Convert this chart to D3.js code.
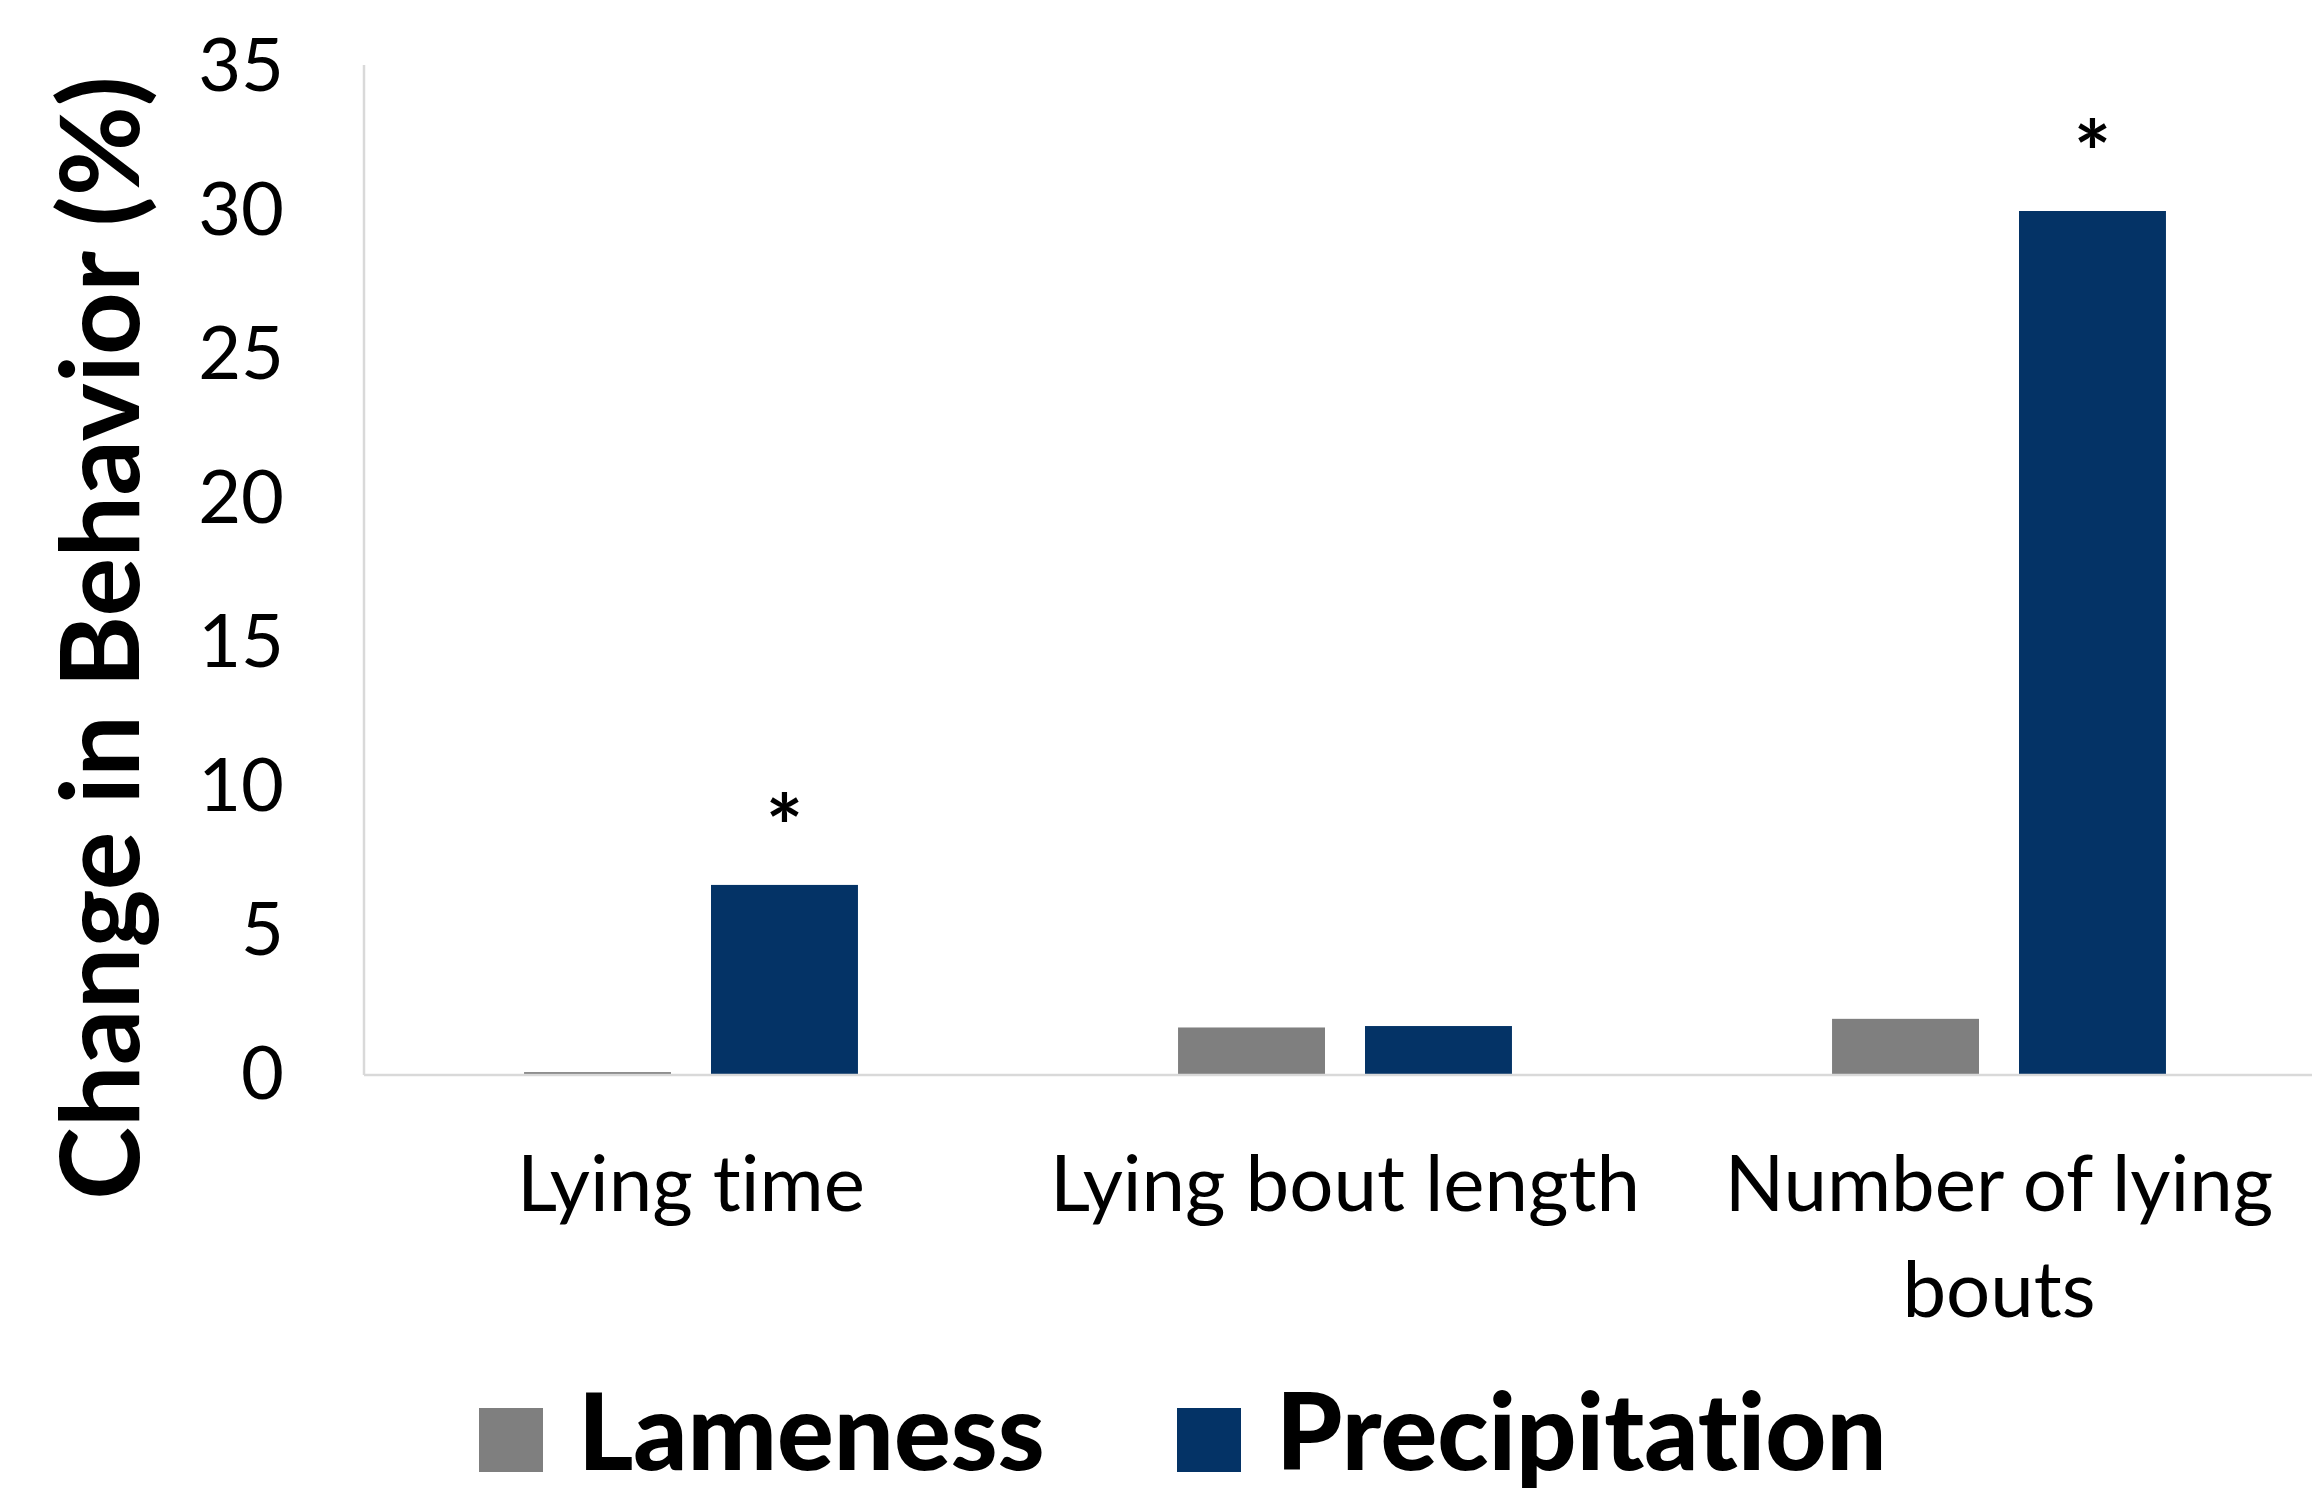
<!DOCTYPE html>
<html>
<head>
<meta charset="utf-8">
<script src="https://cdn.jsdelivr.net/npm/d3@7"></script>
<style>
  html, body { margin: 0; padding: 0; background: #fff; }
  svg { display: block; font-family: Lato, "Open Sans", sans-serif; font-variant-ligatures: none; }
</style>
</head>
<body>
<div id="chart-container"></div>
<script>
// Data
const categories = ["Lying time", "Lying bout length", "Number of lying bouts"];
const seriesNames = ["Lameness", "Precipitation"];
const lameness = [0.1, 1.65, 1.95];
const precipitation = [6.6, 1.7, 30.0];
const lamenessSig = [false, false, false];
const precipitationSig = [true, false, true];
const yTicks = [0, 5, 10, 15, 20, 25, 30, 35];

document.addEventListener("DOMContentLoaded", function () {
  var W = 2312, H = 1497;
  var colors = { Lameness: "#7f7f7f", Precipitation: "#043366" };

  var svg = d3.select("#chart-container").append("svg")
    .attr("width", W)
    .attr("height", H);

  var left = 364, right = 2326, top = 67, base = 1075;

  var x = d3.scaleBand().domain(categories).range([left, right]);
  var x1 = d3.scaleBand().domain(seriesNames)
    .range([0, x.bandwidth()])
    .paddingInner(0.214)
    .paddingOuter(0.856);
  var y = d3.scaleLinear().domain([0, 35]).range([base, top]);

  // rows built from the arrays
  var rows = categories.map(function (c, i) {
    return {
      cat: c,
      vals: [
        { key: "Lameness", value: lameness[i], sig: lamenessSig[i] },
        { key: "Precipitation", value: precipitation[i], sig: precipitationSig[i] }
      ]
    };
  });

  // y axis
  var yAxis = d3.axisLeft(y).tickValues(yTicks).tickSize(0).tickPadding(80);
  var gy = svg.append("g").attr("transform", `translate(${left},0)`).call(yAxis);
  gy.select(".domain").attr("stroke", "#d9d9d9").attr("stroke-width", 2.5)
    .attr("d", `M0,${y(35) - 2}V${base}`);
  gy.selectAll("text")
    .attr("font-size", 74)
    .attr("fill", "#000")
    .attr("font-family", "Lato, sans-serif");

  // bars
  var groups = svg.selectAll(".grp").data(rows).enter().append("g")
    .attr("class", "grp")
    .attr("transform", (d) => `translate(${x(d.cat)},0)`);

  groups.selectAll("rect").data((d) => d.vals).enter().append("rect")
    .attr("x", (d) => x1(d.key))
    .attr("width", x1.bandwidth())
    .attr("y", (d) => y(d.value))
    .attr("height", (d) => base - y(d.value))
    .attr("fill", (d) => colors[d.key]);

  groups.selectAll(".star").data((d) => d.vals.filter((v) => v.sig)).enter()
    .append("text")
    .attr("class", "star")
    .attr("x", (d) => x1(d.key) + x1.bandwidth() / 2)
    .attr("y", (d) => y(d.value) - 26)
    .attr("text-anchor", "middle")
    .attr("font-size", 88)
    .attr("font-weight", "bold")
    .text("*");

  // x axis line
  svg.append("line")
    .attr("x1", left).attr("x2", W)
    .attr("y1", base).attr("y2", base)
    .attr("stroke", "#d9d9d9").attr("stroke-width", 2.5);

  // category labels (wrapped)
  var labels = svg.selectAll(".cat").data(categories).enter().append("text")
    .attr("class", "cat")
    .attr("x", (d) => x(d) + x.bandwidth() / 2)
    .attr("y", 1211)
    .attr("text-anchor", "middle")
    .attr("font-size", 78)
    .attr("fill", "#000");

  labels.each(function (d) {
    var t = d3.select(this);
    var words = d.split(" ");
    var line = [];
    var tspan = t.append("tspan").attr("x", t.attr("x")).attr("dy", 0);
    words.forEach(function (w) {
      line.push(w);
      tspan.text(line.join(" "));
      if (tspan.node().getComputedTextLength() > 620 && line.length > 1) {
        line.pop();
        tspan.text(line.join(" "));
        line = [w];
        tspan = t.append("tspan").attr("x", t.attr("x")).attr("dy", 106).text(w);
      }
    });
  });

  // y title
  svg.append("text")
    .attr("transform", "translate(96,638) rotate(-90)")
    .attr("text-anchor", "middle")
    .attr("dominant-baseline", "central")
    .attr("font-size", 110)
    .attr("font-weight", "bold")
    .text("Change in Behavior (%)");

  // legend
  var legendPos = [{ key: "Lameness", sx: 479 }, { key: "Precipitation", sx: 1177 }];
  var legend = svg.append("g");
  legendPos.forEach(function (d) {
    legend.append("rect")
      .attr("x", d.sx).attr("y", 1408)
      .attr("width", 64).attr("height", 64)
      .attr("fill", colors[d.key]);
    legend.append("text")
      .attr("x", d.sx + 99).attr("y", 1470)
      .attr("font-size", 106)
      .attr("font-weight", 900)
      .text(d.key);
  });
});
</script>
</body>
</html>
